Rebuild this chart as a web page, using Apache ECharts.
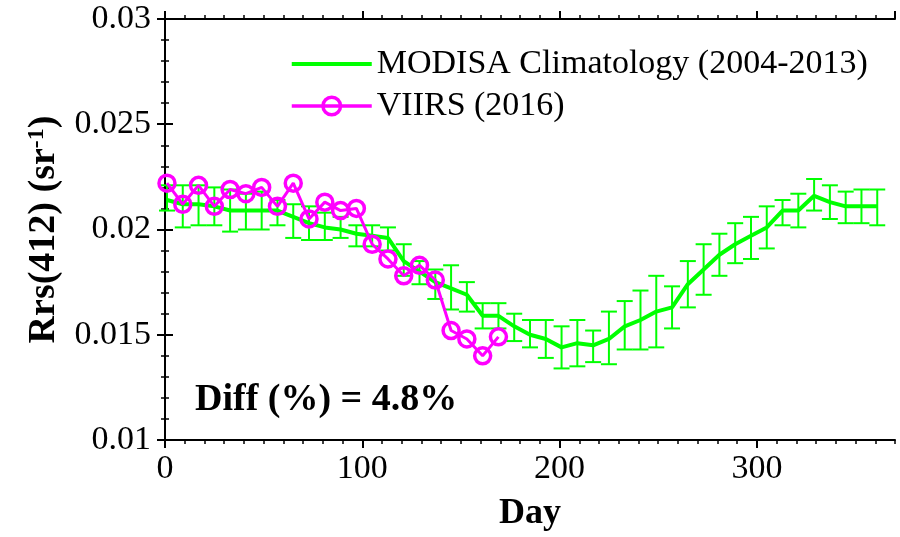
<!DOCTYPE html>
<html>
<head>
<meta charset="utf-8">
<script src="https://cdn.jsdelivr.net/npm/echarts@6/dist/echarts.min.js"></script>
<style>html,body{margin:0;padding:0;background:#fff}#c{width:900px;height:537px}</style>
</head>
<body>
<div id="c"></div>
<script>
// ---- data ----
const modisDays = [1,9,17,25,33,41,49,57,65,73,81,89,97,105,113,121,129,137,145,153,161,169,177,185,193,201,209,217,225,233,241,249,257,265,273,281,289,297,305,313,321,329,337,345,353,361];
const modisMean = [0.0214,0.0212,0.0212,0.0211,0.0209,0.0209,0.0209,0.0209,0.0206,0.0203,0.0201,0.0200,0.0198,0.0197,0.0196,0.0185,0.0180,0.0175,0.0172,0.0169,0.0159,0.0159,0.0154,0.0150,0.0148,0.0144,0.0146,0.0145,0.0148,0.0154,0.0157,0.0161,0.0163,0.0174,0.0181,0.0188,0.0193,0.0197,0.0201,0.0209,0.0209,0.0216,0.0213,0.0211,0.0211,0.0211];
const modisUpper = [0.0221,0.0221,0.0221,0.0220,0.0219,0.0217,0.0218,0.0214,0.0212,0.0211,0.0208,0.0206,0.0202,0.0202,0.0201,0.0193,0.0185,0.0181,0.0183,0.0175,0.0165,0.0165,0.0160,0.0157,0.0157,0.0154,0.0157,0.0152,0.0161,0.0166,0.0171,0.0178,0.0173,0.0185,0.0193,0.0198,0.0203,0.0206,0.0211,0.0214,0.0217,0.0224,0.0221,0.0218,0.0219,0.0219];
const modisLower = [0.0209,0.0201,0.0202,0.0202,0.0199,0.0200,0.0200,0.0202,0.0196,0.0195,0.0195,0.0196,0.0192,0.0192,0.0190,0.0178,0.0174,0.0167,0.0162,0.0161,0.0153,0.0153,0.0147,0.0144,0.0139,0.0134,0.0135,0.0137,0.0136,0.0143,0.0143,0.0144,0.0153,0.0163,0.0169,0.0178,0.0184,0.0186,0.0191,0.0202,0.0201,0.0209,0.0205,0.0203,0.0203,0.0202];
const viirsDays = [1,9,17,25,33,41,49,57,65,73,81,89,97,105,113,121,129,137,145,153,161,169];
const viirsValues = [0.0222,0.0212,0.0221,0.0211,0.0219,0.0217,0.0220,0.0211,0.0222,0.0205,0.0213,0.0209,0.0210,0.0193,0.0186,0.0178,0.0183,0.0176,0.0152,0.0148,0.0140,0.0149];
const xTickLabels = ['0','100','200','300'];
const yTickLabels = ['0.01','0.015','0.02','0.025','0.03'];
const legendNames = ['MODISA Climatology (2004-2013)','VIIRS (2016)'];
const diffText = 'Diff (%) = 4.8%';

// ---- chart ----
const FONT = '"Liberation Serif", "Times New Roman", serif';
const chart = echarts.init(document.getElementById('c'), null, {renderer:'canvas'});
const axLine = {show:true, lineStyle:{color:'#000', width:2}};
function xAx(pos, interval, tickLen, showLabel, showLine){
  return {
    type:'value', position:pos, min:0, max:370, interval:interval,
    axisLine: showLine ? axLine : {show:false},
    axisTick:{show:true, inside:false, length:tickLen, lineStyle:{color:'#000', width:tickLen>6?2:1.5}},
    axisLabel:{show:showLabel, showMaxLabel:false, margin:12, color:'#000', fontFamily:FONT, fontSize:34,
      formatter:(v)=> xTickLabels.includes(String(v)) ? String(v) : ''},
    splitLine:{show:false}
  };
}
function yAx(pos, showLabel){
  return {
    type:'value', position:pos, min:0.01, max:0.03, interval:0.005,
    axisLine: axLine,
    axisTick:{show:true, inside:false, length:8, lineStyle:{color:'#000', width:2}},
    minorTick:{show:true, splitNumber:5, length:4, lineStyle:{color:'#000', width:1.5}},
    axisLabel:{show:showLabel, margin:14, color:'#000', fontFamily:FONT, fontSize:34,
      formatter:(v)=>{ const s = yTickLabels.find(t=>Math.abs(parseFloat(t)-v)<1e-9); return s||''; }},
    splitLine:{show:false}
  };
}
const xAxes = [xAx('bottom',100,8,true,true), xAx('bottom',10,4,false,false), xAx('top',100,8,false,true), xAx('top',10,4,false,false)];
xAxes[0].name = 'Day';
xAxes[0].nameLocation = 'middle';
xAxes[0].nameGap = 56;
xAxes[0].nameTextStyle = {fontFamily:FONT, fontWeight:'bold', fontSize:36, color:'#000'};
const yAxes = [yAx('left',true), yAx('right',false)];
yAxes[0].name = '{b|Rrs(412) (sr}{s|-1}{b|)}';
yAxes[0].nameLocation = 'middle';
yAxes[0].nameGap = 100;
yAxes[0].nameTextStyle = {color:'#000', rich:{
  b:{fontFamily:FONT, fontWeight:'bold', fontSize:38, color:'#000', lineHeight:40},
  s:{fontFamily:FONT, fontWeight:'bold', fontSize:24, color:'#000', verticalAlign:'top', lineHeight:40}
}};

const errData = modisDays.map((d,i)=>[d, modisLower[i], modisUpper[i]]);
const option = {
  animation:false,
  backgroundColor:'#fff',
  grid:{left:165, right:5, top:19, bottom:92, containLabel:false},
  xAxis:xAxes,
  yAxis:yAxes,
  legend:{
    orient:'vertical', left:285, top:42, itemWidth:80, itemHeight:22, itemGap:8,
    textStyle:{fontFamily:FONT, fontSize:34, color:'#000'},
    lineStyle:{width:3.5},
    data:[
      {name:legendNames[0], icon:'path://M0,0L80,0L80,4L0,4Z', itemStyle:{color:'#00ff00'}},
      {name:legendNames[1], lineStyle:{width:3.5, color:'#ff00ff'}, itemStyle:{borderWidth:3.5, borderColor:'#ff00ff'}}
    ]
  },
  graphic:[{type:'text', left:195, top:381, style:{text:diffText, font:'bold 38px '+FONT, fill:'#000'}}],
  series:[
    {
      type:'custom', name:'err', xAxisIndex:0, yAxisIndex:0, z:2,
      data:errData, encode:{x:0, y:[1,2]},
      renderItem:(params, api)=>{
        const x = api.value(0), lo = api.value(1), hi = api.value(2);
        const a = api.coord([x, lo]), b = api.coord([x, hi]);
        const w = 8, st = {stroke:'#00ff00', lineWidth:2};
        return {type:'group', children:[
          {type:'line', shape:{x1:a[0], y1:a[1], x2:b[0], y2:b[1]}, style:st},
          {type:'line', shape:{x1:a[0]-w, y1:a[1], x2:a[0]+w, y2:a[1]}, style:st},
          {type:'line', shape:{x1:b[0]-w, y1:b[1], x2:b[0]+w, y2:b[1]}, style:st}
        ]};
      }
    },
    {
      type:'line', name:legendNames[0], xAxisIndex:0, yAxisIndex:0, z:3,
      data:modisDays.map((d,i)=>[d, modisMean[i]]),
      symbol:'none', lineStyle:{color:'#00ff00', width:4}, itemStyle:{color:'#00ff00'}
    },
    {
      type:'line', name:legendNames[1], xAxisIndex:0, yAxisIndex:0, z:4,
      data:viirsDays.map((d,i)=>[d, viirsValues[i]]),
      symbol:'circle', symbolSize:16,
      lineStyle:{color:'#ff00ff', width:3},
      itemStyle:{color:'rgba(255,255,255,0)', borderColor:'#ff00ff', borderWidth:3.5}
    }
  ]
};
chart.setOption(option);
</script>
</body>
</html>
